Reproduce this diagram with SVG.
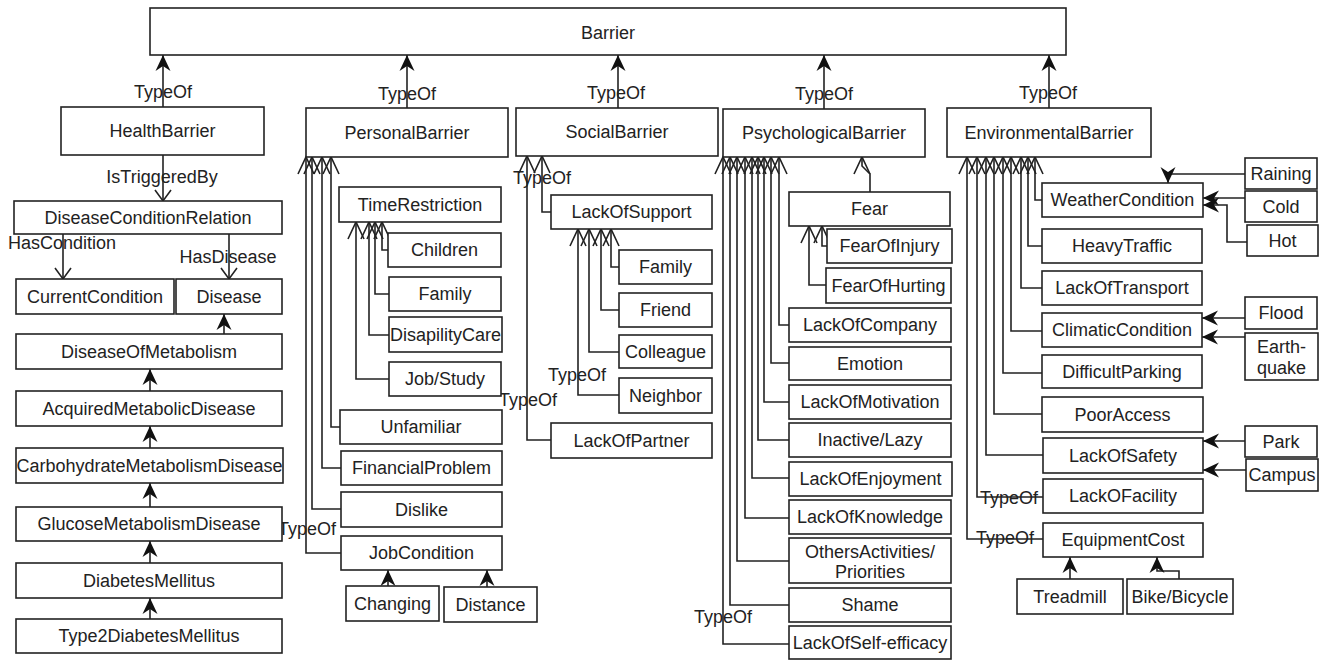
<svg xmlns="http://www.w3.org/2000/svg" width="1320" height="660" viewBox="0 0 1320 660">
<style>
.n rect{fill:#fff;stroke:#222;stroke-width:1.6}
text{font-family:"Liberation Sans",Arial,sans-serif;font-size:18px;fill:#222;text-anchor:middle}
.c path{fill:none;stroke:#222;stroke-width:1.6}
.d{marker-end:url(#dart)}
.v{marker-end:url(#vee)}
.s{marker-end:url(#vees)}
</style>
<defs>
<marker id="dart" markerUnits="userSpaceOnUse" markerWidth="16" markerHeight="16" viewBox="0 0 16 16" refX="16" refY="8" orient="auto"><path d="M16,8 L0,0.5 L5,8 L0,15.5 Z" fill="#111"/></marker>
<marker id="vee" markerUnits="userSpaceOnUse" markerWidth="20" markerHeight="20" viewBox="-1 -1 20 20" refX="17" refY="9" orient="auto"><path d="M0,1 L17,9 L0,17" fill="none" stroke="#222" stroke-width="1.6"/></marker>
<marker id="vees" markerUnits="userSpaceOnUse" markerWidth="20" markerHeight="20" viewBox="-1 -1 20 20" refX="11" refY="9" orient="auto"><path d="M0,1 L11,9 L0,17" fill="none" stroke="#222" stroke-width="1.6"/></marker>
</defs>
<rect width="1320" height="660" fill="#fff"/>

<g id="connectors" class="c">
<path class="d" d="M163,107 V55"/>
<path class="d" d="M407,108 V55"/>
<path class="d" d="M618,108 V55"/>
<path class="d" d="M824,109 V55"/>
<path class="d" d="M1049,108 V55"/>
<path class="s" d="M163,155 V201"/>
<path class="s" d="M63,234 V279"/>
<path class="s" d="M229,234 V279"/>
<path class="d" d="M224,334 V314"/>
<path class="d" d="M150,391 V369"/>
<path class="d" d="M150,448 V426"/>
<path class="d" d="M150,507 V483"/>
<path class="d" d="M150,563 V541"/>
<path class="d" d="M150,619 V598"/>
<path class="v" d="M340,427 H331 V157"/>
<path class="v" d="M341,468 H322 V157"/>
<path class="v" d="M341,509 H312 V157"/>
<path class="v" d="M341,553 H306 V157"/>
<path class="v" d="M388,250 H382 V222"/>
<path class="v" d="M389,294 H375 V222"/>
<path class="v" d="M389,335 H369 V222"/>
<path class="v" d="M389,379 H356 V222"/>
<path class="d" d="M388,586 V570"/>
<path class="d" d="M487,587 V570"/>
<path class="v" d="M551,212 H542 V156"/>
<path class="v" d="M551,440 H527 V156"/>
<path class="v" d="M619,267 H611 V229"/>
<path class="v" d="M619,310 H601 V229"/>
<path class="v" d="M619,352 H589 V229"/>
<path class="v" d="M619,395 H578 V229"/>
<path class="v" d="M870,192 V174 L862,166 V157"/>
<path class="v" d="M827,246 H822 V226"/>
<path class="v" d="M826,285 H809 V226"/>
<path class="v" d="M789,325 H779 V157"/>
<path class="v" d="M789,363 H771 V157"/>
<path class="v" d="M789,402 H764 V157"/>
<path class="v" d="M789,440 H758 V157"/>
<path class="v" d="M789,478 H752 V157"/>
<path class="v" d="M789,518 H745 V157"/>
<path class="v" d="M789,561 H737 V157"/>
<path class="v" d="M789,605 H730 V157"/>
<path class="v" d="M789,644 H723 V157"/>
<path class="v" d="M1042,200 H1035 V157"/>
<path class="v" d="M1042,246 H1028 V157"/>
<path class="v" d="M1042,288 H1021 V157"/>
<path class="v" d="M1042,331 H1011 V157"/>
<path class="v" d="M1042,373 H1003 V157"/>
<path class="v" d="M1042,414 H994 V157"/>
<path class="v" d="M1043,455 H986 V157"/>
<path class="v" d="M1043,497 H977 V157"/>
<path class="v" d="M1043,539 H967 V157"/>
<path class="d" d="M1245,174 H1168 V183"/>
<path class="d" d="M1245,198 H1203"/>
<path class="d" d="M1247,242 H1227 V205 H1203"/>
<path class="d" d="M1245,318 H1202"/>
<path class="d" d="M1245,337 H1202"/>
<path class="d" d="M1245,441 H1203"/>
<path class="d" d="M1246,470 H1203"/>
<path class="d" d="M1070,579 V557"/>
<path class="d" d="M1179,579 V571 H1157 V557"/>
</g>

<g id="labels">
<text x="163" y="98">TypeOf</text>
<text x="407" y="100">TypeOf</text>
<text x="616" y="99">TypeOf</text>
<text x="824" y="100">TypeOf</text>
<text x="1048" y="99">TypeOf</text>
<text x="162" y="183">IsTriggeredBy</text>
<text x="62" y="249">HasCondition</text>
<text x="228" y="263">HasDisease</text>
<text x="542" y="184">TypeOf</text>
<text x="577" y="381">TypeOf</text>
<text x="528" y="406">TypeOf</text>
<text x="307" y="535">TypeOf</text>
<text x="723" y="623">TypeOf</text>
<text x="1009" y="504">TypeOf</text>
<text x="1005" y="544">TypeOf</text>
</g>

<g id="Barrier" class="n"><rect x="150" y="8" width="916" height="47"/><text x="608" y="39">Barrier</text></g>

<g id="HealthBarrier" class="n"><rect x="61" y="107" width="203" height="48"/><text x="162.5" y="137">HealthBarrier</text></g>
<g id="DiseaseConditionRelation" class="n"><rect x="14" y="201" width="268" height="33"/><text x="148" y="223.5">DiseaseConditionRelation</text></g>
<g id="CurrentCondition" class="n"><rect x="16" y="279" width="158" height="35"/><text x="95" y="302.5">CurrentCondition</text></g>
<g id="Disease" class="n"><rect x="176" y="279" width="106" height="35"/><text x="229" y="302.5">Disease</text></g>
<g id="DiseaseOfMetabolism" class="n"><rect x="16" y="334" width="266" height="35"/><text x="149" y="357.5">DiseaseOfMetabolism</text></g>
<g id="AcquiredMetabolicDisease" class="n"><rect x="16" y="391" width="266" height="35"/><text x="149" y="414.5">AcquiredMetabolicDisease</text></g>
<g id="CarbohydrateMetabolismDisease" class="n"><rect x="16" y="448" width="267" height="35"/><text x="149.5" y="471.5">CarbohydrateMetabolismDisease</text></g>
<g id="GlucoseMetabolismDisease" class="n"><rect x="16" y="507" width="266" height="34"/><text x="149" y="530">GlucoseMetabolismDisease</text></g>
<g id="DiabetesMellitus" class="n"><rect x="16" y="563" width="266" height="35"/><text x="149" y="586.5">DiabetesMellitus</text></g>
<g id="Type2DiabetesMellitus" class="n"><rect x="16" y="619" width="266" height="34"/><text x="149" y="642">Type2DiabetesMellitus</text></g>

<g id="PersonalBarrier" class="n"><rect x="306" y="108" width="202" height="49"/><text x="407" y="138.5">PersonalBarrier</text></g>
<g id="TimeRestriction" class="n"><rect x="339" y="187" width="162" height="35"/><text x="420" y="210.5">TimeRestriction</text></g>
<g id="Children" class="n"><rect x="388" y="233" width="113" height="34"/><text x="444.5" y="256">Children</text></g>
<g id="FamilyTime" class="n"><rect x="389" y="277" width="112" height="34"/><text x="445" y="300">Family</text></g>
<g id="DisapilityCare" class="n"><rect x="389" y="317" width="113" height="35"/><text x="445.5" y="340.5">DisapilityCare</text></g>
<g id="JobStudy" class="n"><rect x="389" y="362" width="112" height="34"/><text x="445" y="385">Job/Study</text></g>
<g id="Unfamiliar" class="n"><rect x="340" y="410" width="162" height="34"/><text x="421" y="433">Unfamiliar</text></g>
<g id="FinancialProblem" class="n"><rect x="341" y="451" width="161" height="34"/><text x="421.5" y="474">FinancialProblem</text></g>
<g id="Dislike" class="n"><rect x="341" y="492" width="161" height="35"/><text x="421.5" y="515.5">Dislike</text></g>
<g id="JobCondition" class="n"><rect x="341" y="536" width="161" height="34"/><text x="421.5" y="559">JobCondition</text></g>
<g id="Changing" class="n"><rect x="346" y="586" width="93" height="35"/><text x="392.5" y="609.5">Changing</text></g>
<g id="Distance" class="n"><rect x="444" y="587" width="93" height="35"/><text x="490.5" y="610.5">Distance</text></g>

<g id="SocialBarrier" class="n"><rect x="516" y="108" width="202" height="48"/><text x="617" y="138">SocialBarrier</text></g>
<g id="LackOfSupport" class="n"><rect x="551" y="195" width="161" height="34"/><text x="631.5" y="218">LackOfSupport</text></g>
<g id="FamilySupport" class="n"><rect x="619" y="250" width="93" height="34"/><text x="665.5" y="273">Family</text></g>
<g id="Friend" class="n"><rect x="619" y="293" width="93" height="34"/><text x="665.5" y="316">Friend</text></g>
<g id="Colleague" class="n"><rect x="619" y="335" width="93" height="33"/><text x="665.5" y="357.5">Colleague</text></g>
<g id="Neighbor" class="n"><rect x="619" y="378" width="93" height="35"/><text x="665.5" y="401.5">Neighbor</text></g>
<g id="LackOfPartner" class="n"><rect x="551" y="423" width="161" height="35"/><text x="631.5" y="446.5">LackOfPartner</text></g>

<g id="PsychologicalBarrier" class="n"><rect x="723" y="109" width="202" height="48"/><text x="824" y="139">PsychologicalBarrier</text></g>
<g id="Fear" class="n"><rect x="789" y="192" width="161" height="34"/><text x="869.5" y="215">Fear</text></g>
<g id="FearOfInjury" class="n"><rect x="827" y="229" width="125" height="34"/><text x="889.5" y="252">FearOfInjury</text></g>
<g id="FearOfHurting" class="n"><rect x="826" y="268" width="125" height="35"/><text x="888.5" y="291.5">FearOfHurting</text></g>
<g id="LackOfCompany" class="n"><rect x="789" y="308" width="162" height="34"/><text x="870" y="331">LackOfCompany</text></g>
<g id="Emotion" class="n"><rect x="789" y="347" width="162" height="33"/><text x="870" y="369.5">Emotion</text></g>
<g id="LackOfMotivation" class="n"><rect x="789" y="385" width="162" height="34"/><text x="870" y="408">LackOfMotivation</text></g>
<g id="InactiveLazy" class="n"><rect x="789" y="423" width="162" height="34"/><text x="870" y="446">Inactive/Lazy</text></g>
<g id="LackOfEnjoyment" class="n"><rect x="789" y="462" width="163" height="34"/><text x="870.5" y="485">LackOfEnjoyment</text></g>
<g id="LackOfKnowledge" class="n"><rect x="789" y="500" width="162" height="34"/><text x="870" y="523">LackOfKnowledge</text></g>
<g id="OthersActivities" class="n"><rect x="789" y="538" width="162" height="45"/><text x="870" y="558">OthersActivities/</text><text x="870" y="578">Priorities</text></g>
<g id="Shame" class="n"><rect x="789" y="588" width="162" height="34"/><text x="870" y="611">Shame</text></g>
<g id="LackOfSelfEfficacy" class="n"><rect x="789" y="626" width="162" height="33"/><text x="870" y="648.5">LackOfSelf-efficacy</text></g>

<g id="EnvironmentalBarrier" class="n"><rect x="947" y="108" width="204" height="49"/><text x="1049" y="138.5">EnvironmentalBarrier</text></g>
<g id="WeatherCondition" class="n"><rect x="1042" y="183" width="161" height="34"/><text x="1122.5" y="206">WeatherCondition</text></g>
<g id="HeavyTraffic" class="n"><rect x="1042" y="229" width="160" height="34"/><text x="1122" y="252">HeavyTraffic</text></g>
<g id="LackOfTransport" class="n"><rect x="1042" y="271" width="160" height="34"/><text x="1122" y="294">LackOfTransport</text></g>
<g id="ClimaticCondition" class="n"><rect x="1042" y="313" width="160" height="34"/><text x="1122" y="336">ClimaticCondition</text></g>
<g id="DifficultParking" class="n"><rect x="1042" y="355" width="160" height="33"/><text x="1122" y="377.5">DifficultParking</text></g>
<g id="PoorAccess" class="n"><rect x="1042" y="397" width="161" height="35"/><text x="1122.5" y="420.5">PoorAccess</text></g>
<g id="LackOfSafety" class="n"><rect x="1043" y="438" width="160" height="35"/><text x="1123" y="461.5">LackOfSafety</text></g>
<g id="LackOFacility" class="n"><rect x="1043" y="479" width="160" height="34"/><text x="1123" y="502">LackOFacility</text></g>
<g id="EquipmentCost" class="n"><rect x="1043" y="523" width="160" height="34"/><text x="1123" y="546">EquipmentCost</text></g>
<g id="Treadmill" class="n"><rect x="1017" y="579" width="106" height="35"/><text x="1070" y="602.5">Treadmill</text></g>
<g id="BikeBicycle" class="n"><rect x="1127" y="579" width="106" height="35"/><text x="1180" y="602.5">Bike/Bicycle</text></g>
<g id="Raining" class="n"><rect x="1245" y="158" width="72" height="31"/><text x="1281" y="179.5">Raining</text></g>
<g id="Cold" class="n"><rect x="1245" y="191" width="72" height="31"/><text x="1281" y="212.5">Cold</text></g>
<g id="Hot" class="n"><rect x="1247" y="225" width="71" height="31"/><text x="1282.5" y="246.5">Hot</text></g>
<g id="Flood" class="n"><rect x="1245" y="297" width="72" height="32"/><text x="1281" y="319">Flood</text></g>
<g id="Earthquake" class="n"><rect x="1245" y="333" width="73" height="47"/><text x="1281.5" y="353">Earth-</text><text x="1281.5" y="374">quake</text></g>
<g id="Park" class="n"><rect x="1245" y="426" width="72" height="31"/><text x="1281" y="447.5">Park</text></g>
<g id="Campus" class="n"><rect x="1246" y="459" width="72" height="32"/><text x="1282" y="481">Campus</text></g>
</svg>
